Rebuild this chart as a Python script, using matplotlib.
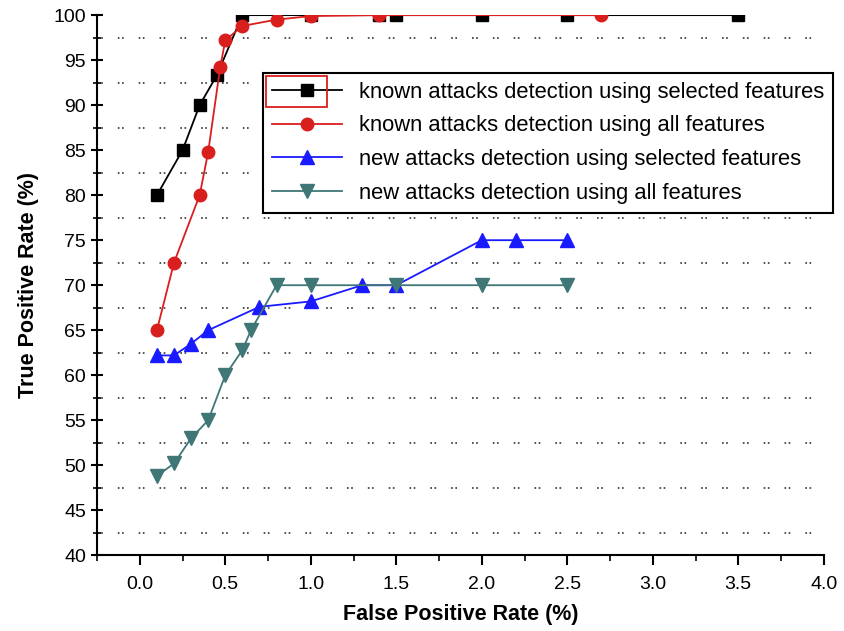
import numpy as np
import matplotlib.pyplot as plt
from matplotlib.patches import Rectangle

plt.rcParams['font.family'] = ['Liberation Sans', 'DejaVu Sans']

# known attacks, selected features
x_known_sel = [0.1, 0.25, 0.35, 0.45, 0.6, 1.0, 1.4, 1.5, 2.0, 2.5, 3.5]
y_known_sel = [80, 85, 90, 93.3, 100, 100, 100, 100, 100, 100, 100]

# known attacks, all features
x_known_all = [0.1, 0.2, 0.35, 0.4, 0.47, 0.5, 0.6, 0.8, 1.0, 1.4, 2.7]
y_known_all = [65, 72.5, 80, 84.8, 94.2, 97.2, 98.8, 99.5, 99.9, 100, 100]

# new attacks, selected features
x_new_sel = [0.1, 0.2, 0.3, 0.4, 0.7, 1.0, 1.3, 1.5, 2.0, 2.2, 2.5]
y_new_sel = [62.2, 62.2, 63.5, 65, 67.6, 68.2, 70, 70, 75, 75, 75]

# new attacks, all features
x_new_all = [0.1, 0.2, 0.3, 0.4, 0.5, 0.6, 0.65, 0.8, 1.0, 1.5, 2.0, 2.5]
y_new_all = [48.8, 50.2, 53, 55, 60, 62.8, 65, 70, 70, 70, 70, 70]

labels = ["known attacks detection using selected features",
          "known attacks detection using all features",
          "new attacks detection using selected features",
          "new attacks detection using all features"]

fig = plt.figure(figsize=(8.44, 6.31), dpi=100)
ax = fig.add_axes([0.115, 0.12, 0.861, 0.856])

ax.plot(x_known_sel, y_known_sel, color='black', lw=1.3, marker='s', ms=8, label=labels[0])
ax.plot(x_known_all, y_known_all, color='#d91e1e', lw=1.3, marker='o', ms=9, label=labels[1])
ax.plot(x_new_sel, y_new_sel, color='#1a1aff', lw=1.3, marker='^', ms=10, label=labels[2])
ax.plot(x_new_all, y_new_all, color='#3f7676', lw=1.3, marker='v', ms=10, label=labels[3])

ax.set_xlim(-0.25, 4.0)
ax.set_ylim(40, 100)
ax.set_xticks(np.arange(0, 4.01, 0.5))
ax.set_xticks(np.arange(-0.25, 4.01, 0.25), minor=True)
ax.set_yticks(np.arange(40, 101, 5))
ax.set_yticks(np.arange(42.5, 100, 5), minor=True)

ax.spines['top'].set_visible(False)
ax.spines['right'].set_visible(False)
ax.spines['left'].set_linewidth(1.5)
ax.spines['bottom'].set_linewidth(1.5)
ax.tick_params(axis='x', which='major', direction='out', length=7, width=1.5, labelsize=14, pad=8)
ax.tick_params(axis='x', which='minor', direction='out', length=4, width=1.2)
ax.tick_params(axis='y', which='major', direction='inout', length=9, width=1.5, labelsize=14)
ax.tick_params(axis='y', which='minor', direction='inout', length=6, width=1.2)

ax.grid(True, axis='y', which='minor', color='#333333', lw=1.2, linestyle=(0, (1, 1.5, 1, 9)))

ax.set_xlabel("False Positive Rate (%)", fontsize=15.5, fontweight='bold', labelpad=8)
ax.set_ylabel("True Positive Rate (%)", fontsize=15.5, fontweight='bold', labelpad=10)

leg = ax.legend(loc='upper left', bbox_to_anchor=(0.228, 0.893), fontsize=15.8,
                fancybox=False, edgecolor='black', framealpha=1, borderaxespad=0,
                handlelength=3.2, labelspacing=0.58, borderpad=0.4, handletextpad=0.8)
leg.get_frame().set_linewidth(1.5)

# red box round the first legend key
fig.canvas.draw()
bb = leg.get_window_extent().transformed(fig.transFigure.inverted())
w, h = fig.get_size_inches() * fig.dpi
fig.patches.append(Rectangle((bb.x0 + 3 / w, bb.y1 - 34 / h), 61 / w, 31 / h,
                             transform=fig.transFigure, fill=False,
                             edgecolor='#d91e1e', lw=1.3))

fig.savefig("out.png", dpi=100)
